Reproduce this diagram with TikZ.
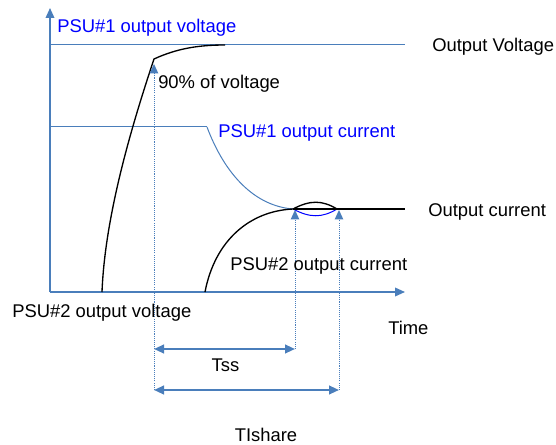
\documentclass[tikz,border=0pt]{standalone}
\usepackage{fontspec}
\setmainfont{Liberation Sans}
\usetikzlibrary{arrows.meta}
\definecolor{axisblue}{HTML}{4A7EBB}
\definecolor{labelblue}{HTML}{0000FF}

\begin{document}
\begin{tikzpicture}[x=0.75pt,y=-0.75pt,
    lbl/.style={font=\fontsize{13.8}{16}\selectfont, inner sep=0pt, anchor=base west},
    axisline/.style={draw=axisblue, line width=1.1pt, -{Triangle[width=6.5pt,length=7.5pt]}},
    guide/.style={draw=axisblue, line width=0.5pt, dash pattern=on 0.8pt off 0.8pt},
    marker/.style={guide, -{Triangle[width=6.5pt,length=7pt,line width=0pt]}},
    span/.style={draw=axisblue, line width=1.5pt, {Triangle[width=6.5pt,length=7.5pt]}-{Triangle[width=6.5pt,length=7.5pt]}},
    level/.style={draw=axisblue, line width=0.75pt},
    trace/.style={draw=black, line width=1pt}]
  \useasboundingbox (0,0) rectangle (556,445);
  % points of the plot
  \coordinate (origin) at (50,292);
  \coordinate (ytop) at (50,8);
  \coordinate (xend) at (405,292);
  \coordinate (vstart) at (102,292);
  \coordinate (vninety) at (154,59);
  \coordinate (vtop) at (225,45);
  \coordinate (vleft) at (50,45);
  \coordinate (vright) at (405,45);
  \coordinate (ileft) at (50,127);
  \coordinate (iknee) at (207,127);
  \coordinate (meet) at (293,209);
  \coordinate (share) at (337,209);
  \coordinate (iright) at (405,209);
  \coordinate (itwostart) at (205,292);
  % axes and levels
  \draw[axisline] (origin) -- (ytop);
  \draw[axisline] (origin) -- (xend);
  \draw[level] (vleft) -- (vright);
  \draw[level] (ileft) -- (iknee);
  \draw[level] (iknee) .. controls (225,175) and (255,206) .. (meet);
  % traces
  \draw[trace] (vstart) .. controls (105,215) and (132,125) .. (vninety)
    .. controls (178,48) and (200,45) .. (vtop);
  \draw[trace] (itwostart) .. controls (215,240) and (250,211) .. (meet);
  \draw[trace] (meet) .. controls (310,200) and (322,200) .. (share);
  \draw[draw=labelblue, line width=0.75pt] (meet) .. controls (310,218) and (322,218) .. (share);
  \draw[draw=black, line width=1.6pt] (meet) -- (iright);
  % timing marks
  \coordinate (tzero) at (154,390);
  \coordinate (tssend) at (295,349);
  \coordinate (tshend) at (339,390);
  \draw[marker] (tzero) -- (154,64);
  \draw[marker] (tssend) -- (295,210);
  \draw[marker] (tshend) -- (339,210);
  \draw[span] (154,349) -- (tssend);
  \draw[span] (tzero) -- (tshend);
  % labels
  \node[lbl, text=labelblue] (psuonev) at (57,33) {PSU\#1 output voltage};
  \node[lbl] (outv) at (432,52) {Output Voltage};
  \node[lbl] (ninety) at (158,89) {90\% of voltage};
  \node[lbl, text=labelblue] (psuonei) at (218,138) {PSU\#1 output current};
  \node[lbl] (outi) at (428,217) {Output current};
  \node[lbl] (psutwoi) at (230,270) {PSU\#2 output current};
  \node[lbl] (psutwov) at (12,317) {PSU\#2 output voltage};
  \node[lbl] (time) at (388,334) {Time};
  \node[lbl, anchor=base] (tss) at (225.5,371) {Tss};
  \node[lbl, anchor=base] (tishare) at (266,441) {TIshare};
\end{tikzpicture}
\end{document}
